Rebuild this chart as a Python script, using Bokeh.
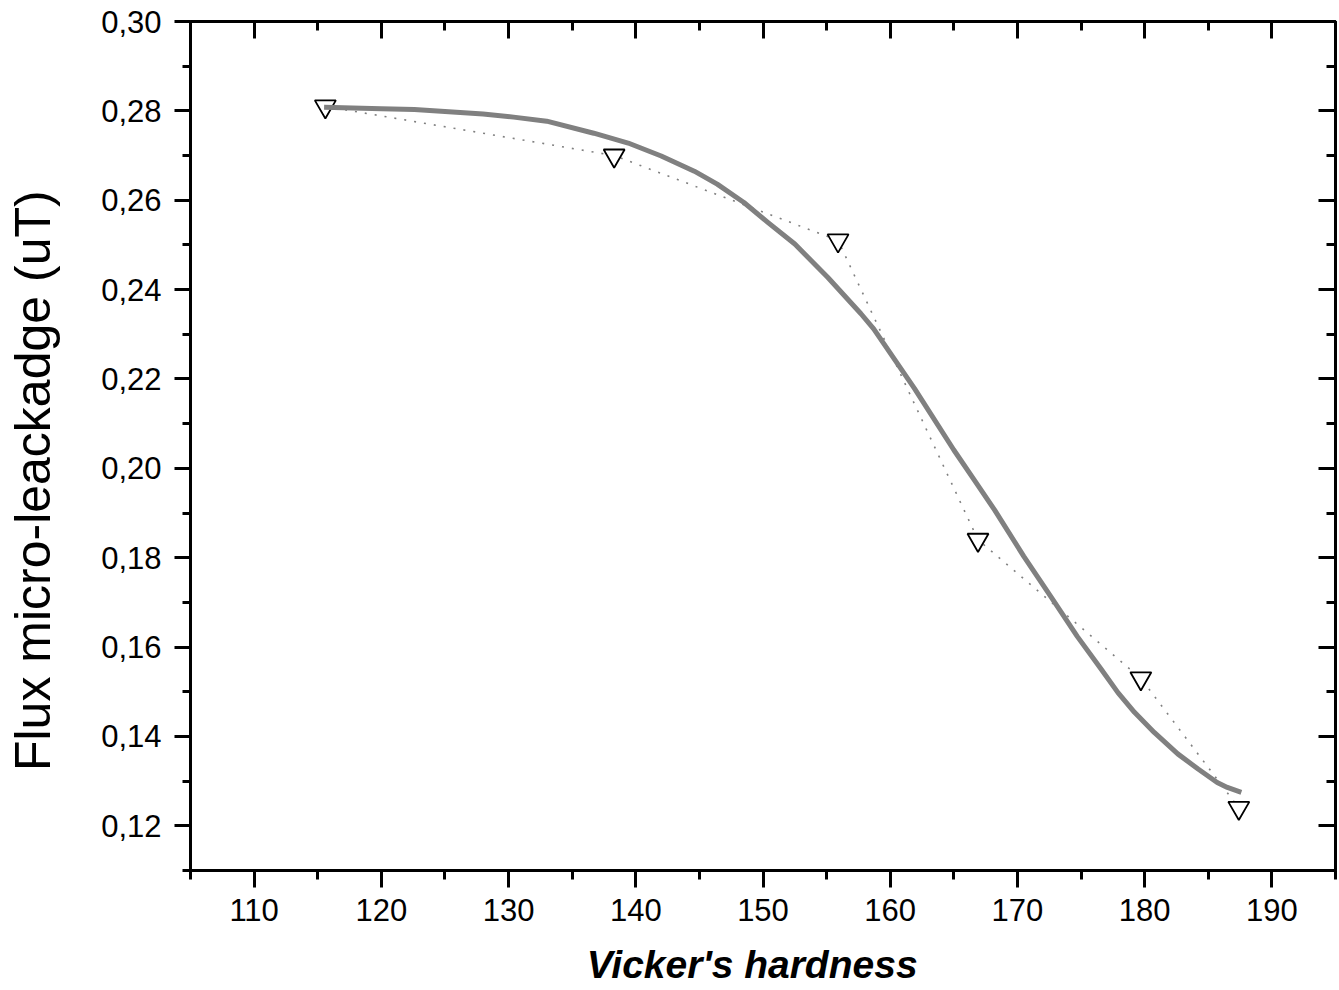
from bokeh.plotting import figure
from bokeh.models import (Range1d, LinearAxis, FixedTicker, CustomJSTickFormatter,
                          ColumnDataSource)
from bokeh.embed import file_html
from bokeh.resources import INLINE

# ---- data ----
hardness = [115.6, 138.3, 155.9, 166.9, 179.7, 187.4]
leakage = [0.281, 0.270, 0.251, 0.184, 0.153, 0.124]

fit_hardness = [115.5, 120.0, 122.6, 128.0, 130.4, 133.0, 136.7, 139.4, 142.0, 144.6,
                146.4, 148.5, 150.4, 152.5, 155.1, 157.7, 158.7, 161.9, 165.0, 166.6,
                168.2, 170.5, 172.6, 174.7, 176.6, 177.9, 179.2, 180.75, 182.6, 184.2,
                185.7, 186.5, 187.6]
fit_leakage = [0.2808, 0.2805, 0.2803, 0.2793, 0.2786, 0.2777, 0.2750, 0.2728, 0.2699, 0.2665,
               0.2636, 0.2595, 0.2550, 0.2502, 0.2427, 0.2346, 0.2312, 0.2179, 0.2041, 0.1974,
               0.1907, 0.1803, 0.1714, 0.1624, 0.1550, 0.1498, 0.1454, 0.1409, 0.1361, 0.1327,
               0.1297, 0.1286, 0.1275]

x_ticks = [110, 120, 130, 140, 150, 160, 170, 180, 190]
x_minor = [105, 115, 125, 135, 145, 155, 165, 175, 185, 195]
y_ticks = [0.12, 0.14, 0.16, 0.18, 0.20, 0.22, 0.24, 0.26, 0.28, 0.30]
y_minor = [0.11, 0.13, 0.15, 0.17, 0.19, 0.21, 0.23, 0.25, 0.27, 0.29]

x_title = "Vicker's hardness"
y_title = "Flux micro-leackadge (uT)"

FONT = "Liberation Sans"
NBSP = "\u00a0"

p = figure(width=1339, height=990, output_backend="svg", toolbar_location=None,
           x_range=Range1d(105, 195), y_range=Range1d(0.11, 0.30),
           min_border_left=190, min_border_right=4, min_border_top=21, min_border_bottom=120,
           background_fill_color="white", border_fill_color="white")
p.grid.visible = False
p.outline_line_color = "black"
p.outline_line_width = 3

comma_fmt = CustomJSTickFormatter(code="return tick.toFixed(2).replace('.', ',');")
blank_fmt = CustomJSTickFormatter(code="return '';")


def style_axis(ax, inward):
    ax.axis_line_color = "black"
    ax.axis_line_width = 3
    ax.major_tick_line_color = "black"
    ax.major_tick_line_width = 3
    ax.minor_tick_line_color = "black"
    ax.minor_tick_line_width = 3
    if inward:
        ax.major_tick_in = 17
        ax.major_tick_out = 0
        ax.minor_tick_in = 9
        ax.minor_tick_out = 0
        ax.major_label_standoff = 0
    else:
        ax.major_tick_in = 0
        ax.major_tick_out = 17
        ax.minor_tick_in = 0
        ax.minor_tick_out = 9
    ax.major_label_text_font = FONT
    ax.major_label_text_font_size = "31px"
    ax.major_label_text_color = "black"


xa = p.xaxis[0]
xa.ticker = FixedTicker(ticks=x_ticks, minor_ticks=x_minor)
style_axis(xa, False)
xa.major_label_standoff = 11

ya = p.yaxis[0]
ya.ticker = FixedTicker(ticks=y_ticks, minor_ticks=y_minor)
ya.formatter = comma_fmt
style_axis(ya, False)
ya.major_tick_out = 16
ya.minor_tick_out = 8
ya.major_label_standoff = 13

top = LinearAxis(ticker=FixedTicker(ticks=x_ticks, minor_ticks=x_minor), formatter=blank_fmt)
style_axis(top, True)
p.add_layout(top, "above")

right = LinearAxis(ticker=FixedTicker(ticks=y_ticks, minor_ticks=y_minor), formatter=blank_fmt)
style_axis(right, True)
p.add_layout(right, "right")


def title_axis(text, size, style, standoff):
    ax = LinearAxis(ticker=FixedTicker(ticks=[], minor_ticks=[]),
                    axis_label=text, axis_line_color=None,
                    major_tick_line_color=None, minor_tick_line_color=None,
                    major_tick_in=0, major_tick_out=0, minor_tick_in=0, minor_tick_out=0,
                    major_label_standoff=0, axis_label_standoff=standoff)
    ax.axis_label_text_font = FONT
    ax.axis_label_text_font_size = size
    ax.axis_label_text_font_style = style
    ax.axis_label_text_color = "black"
    return ax


# trailing no-break spaces shift the centred titles the way the reference has them
p.add_layout(title_axis(y_title + NBSP * 5, "50px", "normal", 38), "left")
p.add_layout(title_axis(x_title + NBSP * 2, "39px", "bold italic", 19), "below")

pts = ColumnDataSource(dict(x=hardness, y=leakage))
fit = ColumnDataSource(dict(x=fit_hardness, y=fit_leakage))

p.line("x", "y", source=pts, line_color="#808080", line_width=1.6, line_dash="2 8")
p.scatter("x", "y", source=pts, marker="inverted_triangle", size=21,
          fill_color="white", line_color="black", line_width=1.8)
p.line("x", "y", source=fit, line_color="#808080", line_width=5, line_join="round")

open("out.html", "w").write(file_html(p, INLINE))
